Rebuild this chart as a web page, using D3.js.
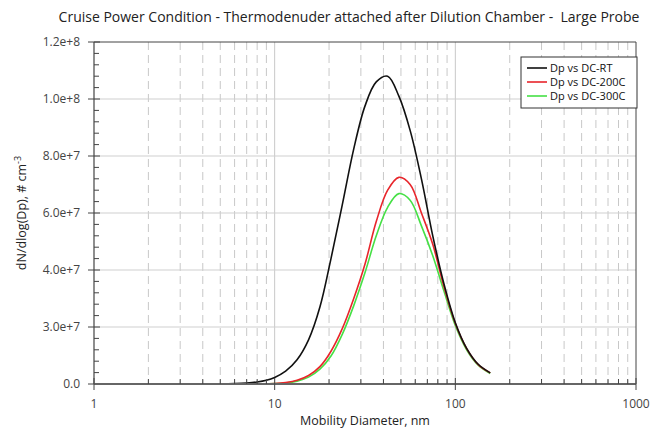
<!DOCTYPE html>
<html>
<head>
<meta charset="utf-8">
<script src="https://cdn.jsdelivr.net/npm/d3@7"></script>
<style>
  body { margin: 0; background: #fff; }
  svg { display: block; font-family: "Open Sans", sans-serif; }
</style>
</head>
<body>
<svg id="chart" width="656" height="430"></svg>
<script>
// mobility diameter, nm
const dp = [4.9, 6, 7, 8, 9, 10, 11.5, 13.3, 15.4, 17.8, 20.5, 23.7, 27.4, 31.6, 36.5, 42.2, 48.7, 56.2, 64.9, 75, 86.6, 100, 115.5, 133.4, 156]

// dN/dlog(Dp), # cm^-3
const dcRT = [0.05e6, 0.15e6, 0.35e6, 0.7e6, 1.3e6, 2.3e6, 4.5e6, 8.5e6, 1.55e7, 2.7e7, 4.4e7, 6.3e7, 8.25e7, 9.75e7, 1.06e8, 1.08e8, 1.01e8, 8.9e7, 7.2e7, 5.2e7, 3.5e7, 2.15e7, 1.25e7, 7.0e6, 3.9e6]
const dc200 = [0, 0, 0.02e6, 0.05e6, 0.1e6, 0.15e6, 0.5e6, 1.3e6, 3.0e6, 6.1e6, 1.15e7, 1.95e7, 3.0e7, 4.2e7, 5.7e7, 6.8e7, 7.25e7, 7.0e7, 6.0e7, 4.9e7, 3.4e7, 2.12e7, 1.24e7, 6.9e6, 3.9e6]
const dc300 = [0, 0, 0.01e6, 0.03e6, 0.07e6, 0.12e6, 0.35e6, 1.0e6, 2.4e6, 5.2e6, 9.8e6, 1.75e7, 2.75e7, 3.9e7, 5.2e7, 6.2e7, 6.68e7, 6.45e7, 5.55e7, 4.5e7, 3.25e7, 2.05e7, 1.2e7, 6.7e6, 3.7e6]

const seriesNames = ["Dp vs DC-RT", "Dp vs DC-200C", "Dp vs DC-300C"]
const seriesColors = ["#111111", "#e8252b", "#45e045"]

const yTickValues = [0, 2e7, 4e7, 6e7, 8e7, 1e8, 1.2e8]
const yTickLabels = ["0.0", "3.0e+7", "4.0e+7", "6.0e+7", "8.0e+7", "1.0e+8", "1.2e+8"]
const xTickValues = [1, 10, 100, 1000]

const margin = {left: 94, right: 20, top: 42, bottom: 46}
const W = 656, H = 430
const svg = d3.select('#chart')

const x = d3.scaleLog()
            .domain([1, 1000])
            .range([margin.left, W - margin.right])
const y = d3.scaleLinear()
            .domain([0, 1.2e8])
            .range([H - margin.bottom, margin.top])

const x0 = x.range()[0], x1 = x.range()[1]
const y0 = y.range()[0], y1 = y.range()[1]

// minor positions on log axis
let xMinor = []
for (let dec of [1, 10, 100]) {
    for (let k = 2; k <= 9; k++) xMinor.push(dec * k)
}
let yMinor = d3.range(0, 1.2e8 + 1, 4e6).filter(v => v % 2e7 !== 0)

// grid
let grid = svg.append('g')
grid.selectAll('.vminor')
    .data(xMinor)
    .enter()
    .append('line')
    .attr('x1', d => x(d)).attr('x2', d => x(d))
    .attr('y1', y1).attr('y2', y0)
    .attr('stroke', '#c8c8c8')
    .attr('stroke-dasharray', '8,5')
grid.selectAll('.vmajor')
    .data([10, 100])
    .enter()
    .append('line')
    .attr('x1', d => x(d)).attr('x2', d => x(d))
    .attr('y1', y1).attr('y2', y0)
    .attr('stroke', '#c8c8c8')
grid.selectAll('.hmajor')
    .data(yTickValues.slice(1, -1))
    .enter()
    .append('line')
    .attr('x1', x0).attr('x2', x1)
    .attr('y1', d => y(d)).attr('y2', d => y(d))
    .attr('stroke', '#cfcfcf')

// frame
svg.append('line').attr('x1', x0).attr('x2', x1).attr('y1', y1).attr('y2', y1).attr('stroke', '#444')
svg.append('line').attr('x1', x1).attr('x2', x1).attr('y1', y1).attr('y2', y0).attr('stroke', '#444')

// curves
let line = d3.line()
             .x(d => x(d[0]))
             .y(d => Math.min(y(d[1]), y0))
             .curve(d3.curveCatmullRom.alpha(0.5))
let allSeries = [dcRT, dc200, dc300]
svg.append('g')
   .selectAll('path')
   .data(allSeries.map(s => dp.map((d, i) => [d, s[i]])).reverse())
   .enter()
   .append('path')
   .attr('d', line)
   .attr('fill', 'none')
   .attr('stroke', (d, i) => seriesColors[2 - i])
   .attr('stroke-width', 1.6)

// y axis
let yAxis = svg.append('g')
yAxis.append('line').attr('x1', x0).attr('x2', x0).attr('y1', y1).attr('y2', y0).attr('stroke', '#444').attr('stroke-width', 1.2)
yAxis.selectAll('.ymin')
     .data(yMinor)
     .enter()
     .append('line')
     .attr('x1', x0).attr('x2', x0 + 5)
     .attr('y1', d => y(d)).attr('y2', d => y(d))
     .attr('stroke', '#444')
yAxis.selectAll('.ymaj')
     .data(yTickValues)
     .enter()
     .append('line')
     .attr('x1', x0 - 6).attr('x2', x0 + 6)
     .attr('y1', d => y(d)).attr('y2', d => y(d))
     .attr('stroke', '#444')
yAxis.selectAll('text')
     .data(yTickValues)
     .enter()
     .append('text')
     .attr('x', x0 - 14)
     .attr('y', d => y(d) + 4)
     .attr('text-anchor', 'end')
     .attr('font-size', 12)
     .attr('fill', '#444')
     .text((d, i) => yTickLabels[i])

// x axis
let xAxis = svg.append('g')
xAxis.append('line').attr('x1', x0).attr('x2', x1).attr('y1', y0).attr('y2', y0).attr('stroke', '#666').attr('stroke-width', 2)
xAxis.selectAll('.xmin')
     .data(xMinor)
     .enter()
     .append('line')
     .attr('x1', d => x(d)).attr('x2', d => x(d))
     .attr('y1', y0).attr('y2', y0 - 5)
     .attr('stroke', '#444')
xAxis.selectAll('.xmaj')
     .data(xTickValues)
     .enter()
     .append('line')
     .attr('x1', d => x(d)).attr('x2', d => x(d))
     .attr('y1', y0 + 6).attr('y2', y0 - 6)
     .attr('stroke', '#444')
xAxis.selectAll('text')
     .data(xTickValues)
     .enter()
     .append('text')
     .attr('x', d => x(d))
     .attr('y', y0 + 24)
     .attr('text-anchor', 'middle')
     .attr('font-size', 12)
     .attr('fill', '#444')
     .text(d => d)

// titles
svg.append('text')
   .attr('x', 349).attr('y', 22)
   .attr('text-anchor', 'middle')
   .attr('font-size', 14)
   .attr('fill', '#222')
   .style('white-space', 'pre')
   .text('Cruise Power Condition - Thermodenuder attached after Dilution Chamber -  Large Probe')

svg.append('text')
   .attr('x', 365).attr('y', 425)
   .attr('text-anchor', 'middle')
   .attr('font-size', 12.5)
   .attr('fill', '#222')
   .text('Mobility Diameter, nm')

let ylab = svg.append('text')
   .attr('transform', 'translate(26,' + ((y0 + y1) / 2) + ') rotate(-90)')
   .attr('text-anchor', 'middle')
   .attr('font-size', 12.5)
   .attr('fill', '#222')
ylab.append('tspan').text('dN/dlog(Dp), # cm')
ylab.append('tspan').attr('dy', -5).attr('font-size', 9).text('-3')

// legend
let lg = svg.append('g').attr('transform', 'translate(521,57)')
lg.append('rect')
  .attr('width', 116).attr('height', 51)
  .attr('fill', '#fff')
  .attr('stroke', '#333')
lg.selectAll('g')
  .data(seriesNames)
  .enter()
  .append('g')
  .attr('transform', (d, i) => 'translate(0,' + (11 + i * 14) + ')')
  .each(function (d, i) {
      let g = d3.select(this)
      g.append('line').attr('x1', 6).attr('x2', 26).attr('stroke', seriesColors[i]).attr('stroke-width', 1.6)
      g.append('text').attr('x', 29).attr('y', 4).attr('font-size', 11).attr('fill', '#111').text(d)
  })
</script>
</body>
</html>
